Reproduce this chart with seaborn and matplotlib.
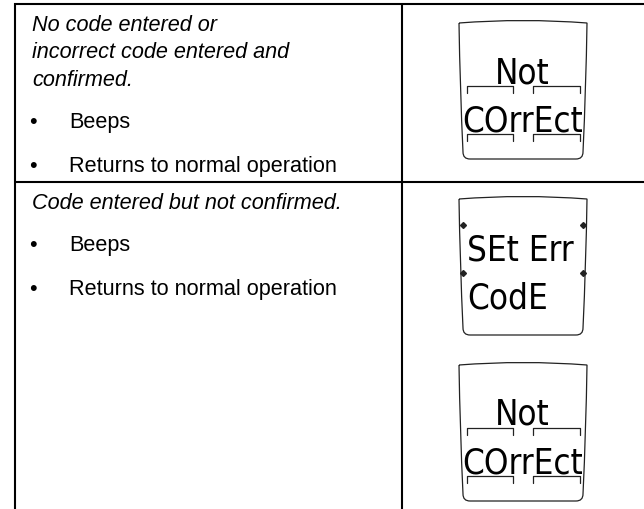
import matplotlib
matplotlib.use("Agg")
import matplotlib.pyplot as plt
import seaborn as sns
from matplotlib.path import Path
from matplotlib.patches import PathPatch

sns.set_theme(style="white")
plt.rcParams["font.family"] = ["Liberation Sans", "DejaVu Sans"]

# ---- content ----
row1_heading = ["No code entered or", "incorrect code entered and", "confirmed."]
row2_heading = ["Code entered but not confirmed."]
row1_bullets = ["Beeps", "Returns to normal operation"]
row2_bullets = ["Beeps", "Returns to normal operation"]
lcd_not_correct = ["Not", "COrrEct"]
lcd_set_err = ["SEt Err", "CodE"]

W, H = 644, 510
fig = plt.figure(figsize=(W / 100, H / 100), dpi=100)
ax = fig.add_axes([0, 0, 1, 1])
ax.set_xlim(0, W)
ax.set_ylim(H, 0)
ax.axis("off")

# ---- table grid ----
LW = 1.5
ax.plot([14, W], [5, 5], color="black", lw=LW, solid_capstyle="butt")
ax.plot([15, 15], [4, H], color="black", lw=LW, solid_capstyle="butt")
ax.plot([402, 402], [4, H], color="black", lw=LW, solid_capstyle="butt")
ax.plot([14, W], [183, 183], color="black", lw=LW, solid_capstyle="butt")

FS = 15.6
TX = 32
BX = 33
BTX = 69
LINE = 27.5


def write_cell(top, heading, bullets):
    y = top
    for line in heading:
        ax.text(TX, y, line, fontsize=FS, style="italic", ha="left", va="baseline", color="black")
        y += LINE
    y += 15
    for b in bullets:
        ax.text(BX, y, "\u2022", fontsize=FS, ha="center", va="baseline", color="black")
        ax.text(BTX, y, b, fontsize=FS, ha="left", va="baseline", color="black")
        y += LINE + 16


write_cell(31, row1_heading, row1_bullets)
write_cell(209, row2_heading, row2_bullets)

# ---- LCD displays ----
LCD_FONT = dict(family=["Liberation Sans Narrow", "DejaVu Sans"], fontstretch="condensed",
                color="black", va="baseline")


def lcd_frame(x0, y0, w=130, h=140):
    verts = [
        (x0 + 1, y0 + 4),
        (x0 + w / 2, y0 - 1), (x0 + w - 1, y0 + 4),
        (x0 + w - 2, y0 + h / 2), (x0 + w - 5, y0 + h - 7),
        (x0 + w - 5, y0 + h), (x0 + w - 12, y0 + h),
        (x0 + 12, y0 + h),
        (x0 + 5, y0 + h), (x0 + 5, y0 + h - 7),
        (x0 + 2, y0 + h / 2), (x0 + 1, y0 + 4),
    ]
    codes = [Path.MOVETO,
             Path.CURVE3, Path.CURVE3,
             Path.CURVE3, Path.CURVE3,
             Path.CURVE3, Path.CURVE3,
             Path.LINETO,
             Path.CURVE3, Path.CURVE3,
             Path.CURVE3, Path.CURVE3]
    ax.add_patch(PathPatch(Path(verts, codes), facecolor="white", edgecolor="#222222", lw=0.9))


def bracket(x1, x2, y, d=7):
    ax.plot([x1, x1, x2, x2], [y + d, y, y, y + d], color="#222222", lw=0.9)


def lcd_not_correct_screen(x0, y0, texts):
    lcd_frame(x0, y0)
    ax.text(x0 + 64, y0 + 63, texts[0], fontsize=25, ha="center", **LCD_FONT)
    bracket(x0 + 9, x0 + 55, y0 + 67)
    bracket(x0 + 75, x0 + 122, y0 + 67)
    ax.text(x0 + 65, y0 + 112, texts[1], fontsize=25, ha="center", **LCD_FONT)
    bracket(x0 + 9, x0 + 55, y0 + 115)
    bracket(x0 + 75, x0 + 122, y0 + 115)


def lcd_set_err_screen(x0, y0, texts):
    lcd_frame(x0, y0)
    for yy in (30, 78):
        ax.plot([x0 + 5, x0 + 125], [y0 + yy, y0 + yy], ls="none", marker="D",
                ms=3, color="#222222")
    ax.text(x0 + 9, y0 + 65, texts[0], fontsize=25, ha="left", **LCD_FONT)
    ax.text(x0 + 9, y0 + 113, texts[1], fontsize=25, ha="left", **LCD_FONT)


lcd_not_correct_screen(458, 20, lcd_not_correct)
lcd_set_err_screen(458, 196, lcd_set_err)
lcd_not_correct_screen(458, 362, lcd_not_correct)

fig.savefig("out.png", dpi=100, facecolor="white")
